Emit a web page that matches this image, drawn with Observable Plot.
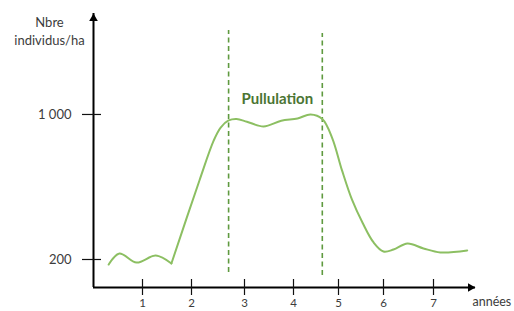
<!DOCTYPE html>
<html>
<head>
<meta charset="utf-8">
<script src="https://cdn.jsdelivr.net/npm/d3@7"></script>
<script src="https://cdn.jsdelivr.net/npm/@observablehq/plot@0.6"></script>
<style>
  html, body { margin: 0; padding: 0; background: #ffffff; }
  #chart svg { display: block; }
</style>
</head>
<body>
<div id="chart"></div>
<script>
// ---- data ----
const years  = [0.31, 0.53, 0.88, 1.27, 1.59, 2.15, 2.42, 2.55, 2.70, 2.85, 3.05, 3.39, 3.75, 4.09, 4.38, 4.64, 4.86, 5.08, 5.30, 5.54, 5.78, 6.00, 6.20, 6.48, 6.80, 7.14, 7.69];
const values = [172, 233, 183, 222, 178, 636, 857, 928, 967, 975, 960, 934, 965, 978, 1000, 975, 870, 690, 530, 400, 294, 244, 255, 288, 261, 239, 250];
const breakYear = 1.59;              // sharp corner where the outbreak starts
const phaseBounds = [2.70, 4.64];    // dashed vertical lines
const phaseTop = [1463, 1447];
const phaseBottom = [128, 112];
const phaseLabel = "Pullulation";
const xTicks = [1, 2, 3, 4, 5, 6, 7];
const yTicks = [200, 1000];
const yTitle = "Nbre\nindividus/ha";
const xTitle = "années";

// ---- build table ----
const data = years.map((x, i) => ({x, y: values[i]}));
const before = data.filter(d => d.x <= breakYear);
const after = data.filter(d => d.x >= breakYear);
const rules = phaseBounds.map((x, i) => ({x, y1: phaseBottom[i], y2: phaseTop[i]}));

const xDomain = [0, 1, 2, 3, 4, 5, 6, 7, 7.86];
const xRange  = [93, 142, 191, 244, 293, 338, 383, 433, 475];
const yDomain = [45.5, 1557];

const fr = d3.formatLocale({decimal: ",", thousands: "\u00a0", grouping: [3], currency: ["", ""]});
const fmt = fr.format(",");

const font = "Lato, 'Open Sans', sans-serif";
const ink = "#3c3c3c";
const curveColor = "#8cbf62";
const dashColor = "#5f9a3f";

const chart = Plot.plot({
  width: 514,
  height: 311,
  marginLeft: 93,
  marginRight: 39,
  marginTop: 13,
  marginBottom: 24,
  style: {fontFamily: font, background: "#ffffff", overflow: "visible"},
  x: {type: "linear", domain: xDomain, range: xRange, axis: null},
  y: {type: "linear", domain: yDomain, axis: null},
  marks: [
    // dashed phase limits
    Plot.ruleX(rules, {x: "x", y1: "y1", y2: "y2", stroke: dashColor, strokeWidth: 1.6, strokeDasharray: "5,3.5"}),
    Plot.text([{x: d3.mean(phaseBounds), y: 1000}], {x: "x", y: "y", text: () => phaseLabel, dy: -15, fontSize: 15, fontWeight: "bold", fill: "#4b7533", fontFamily: font}),
    // curve
    Plot.line(before, {x: "x", y: "y", curve: "catmull-rom", stroke: curveColor, strokeWidth: 2}),
    Plot.line(after, {x: "x", y: "y", curve: "catmull-rom", stroke: curveColor, strokeWidth: 2}),
    // axes lines
    Plot.ruleY([yDomain[0]], {stroke: "#000", strokeWidth: 2}),
    Plot.ruleX([0], {stroke: "#000", strokeWidth: 2}),
    Plot.dot([{x: 0, y: yDomain[1]}], {x: "x", y: "y", symbol: "triangle", r: 3.2, fill: "#000", stroke: null, dy: 5}),
    Plot.dot([{x: xDomain[xDomain.length - 1], y: yDomain[0]}], {x: "x", y: "y", symbol: "triangle", r: 3.2, fill: "#000", stroke: null, rotate: 90, dx: -5}),
    // tick marks crossing the axes
    Plot.axisX({ticks: xTicks, tickSize: 16, dy: -8, tickFormat: () => "", label: null, stroke: "#111", strokeWidth: 1.2}),
    Plot.axisY({ticks: yTicks, tickSize: 19, dx: 8, tickFormat: () => "", label: null, stroke: "#111", strokeWidth: 1.2}),
    // tick labels
    Plot.axisX({ticks: xTicks, tickSize: 0, tickPadding: 11, label: null, fontSize: 11.5, fill: ink, tickFormat: d => String(d)}),
    Plot.axisY({ticks: yTicks, tickSize: 0, tickPadding: 22, label: null, fontSize: 13, fill: ink, tickFormat: fmt}),
    // axis titles
    Plot.text([{x: 0, y: yDomain[1]}], {x: "x", y: "y", text: () => yTitle, dx: -44, dy: 17, lineHeight: 1.4, fontSize: 13, fill: ink, textAnchor: "middle", fontFamily: font}),
    Plot.text([{x: xDomain[xDomain.length - 1], y: yDomain[0]}], {x: "x", y: "y", text: () => xTitle, dx: -3, dy: 14, fontSize: 12.5, fill: ink, textAnchor: "start", fontFamily: font})
  ]
});
document.getElementById("chart").appendChild(chart);
</script>
</body>
</html>
